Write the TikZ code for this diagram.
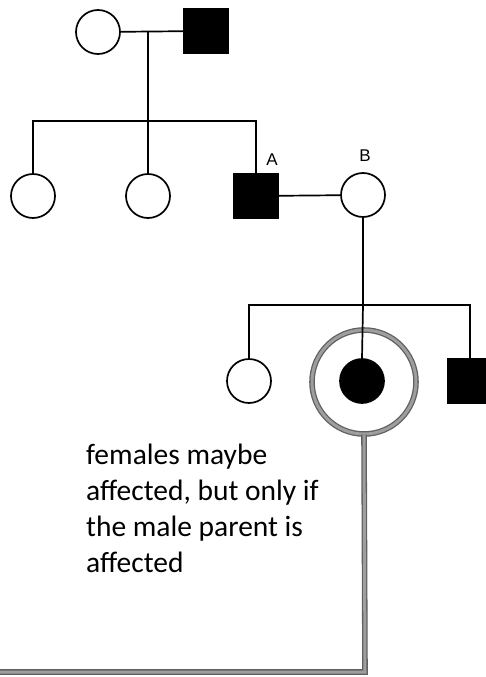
\documentclass[tikz,border=0pt]{standalone}
\usepackage{fontspec}
\setmainfont{Carlito}
\newfontfamily\letterfont{Liberation Sans}
\usetikzlibrary{positioning}

\begin{document}
\begin{tikzpicture}[
      x=1pt,y=-1pt,
      female/.style={circle,draw,line width=1.7pt,minimum size=44pt,inner sep=0pt},
      male/.style={rectangle,draw,line width=1.7pt,minimum size=44pt,inner sep=0pt},
      affected/.style={fill=black},
      link/.style={line width=1.7pt},
      ring/.style={draw=black!62,double=black!38,double distance=3pt,line width=1.3pt},
      letter/.style={font=\letterfont\fontsize{17}{17}\selectfont,inner sep=0pt},
      note/.style={font=\fontsize{29.5}{36}\selectfont,align=left,inner sep=0pt}
    ]
    \useasboundingbox (0,0) rectangle (486,677);
    \clip (0,0) rectangle (486,677);

    \node[female] (gm) at (98,32) {};
    \node[male,affected] (gf) at (206,31) {};
    \coordinate (gen1) at (148,32);
    \coordinate (gen1bar) at (148,121);

    \node[female] (c1) at (33,196) {};
    \node[female] (c2) at (148,196) {};
    \node[male,affected] (a) at (256,196) {};
    \node[female] (b) at (363,195) {};
    \node[letter] (la) at (272,160) {A};
    \node[letter] (lb) at (365,156) {B};
    \coordinate (gen2bar) at (363,305);

    \node[circle,ring,minimum size=104pt,inner sep=0pt] (mark) at (364,382) {};
    \coordinate (corner) at (365,672);
    \coordinate (edge) at (0,672);
    \draw[ring] (mark.south) -- (corner) -- (edge);

    \node[female] (d1) at (249,381) {};
    \node[female,affected] (d2) at (362,381) {};
    \node[male,affected] (d3) at (470,381) {};

    \draw[link] (gm) -- (gf);
    \draw[link] (gen1) -- (gen1bar);
    \draw[link] (c1.north) |- (gen1bar) -| (a.north);
    \draw[link] (gen1bar) -- (c2.north);
    \draw[link] (a) -- (b);
    \draw[link] (b) -- (gen2bar);
    \draw[link] (d1.north) |- (gen2bar) -| (d3.north);
    \draw[link] (gen2bar) -- (d2.north);

    \node[note,anchor=north west] (text) at (86,444) {females maybe\\affected, but only if\\the male parent is\\affected};
  \end{tikzpicture}
\end{document}
